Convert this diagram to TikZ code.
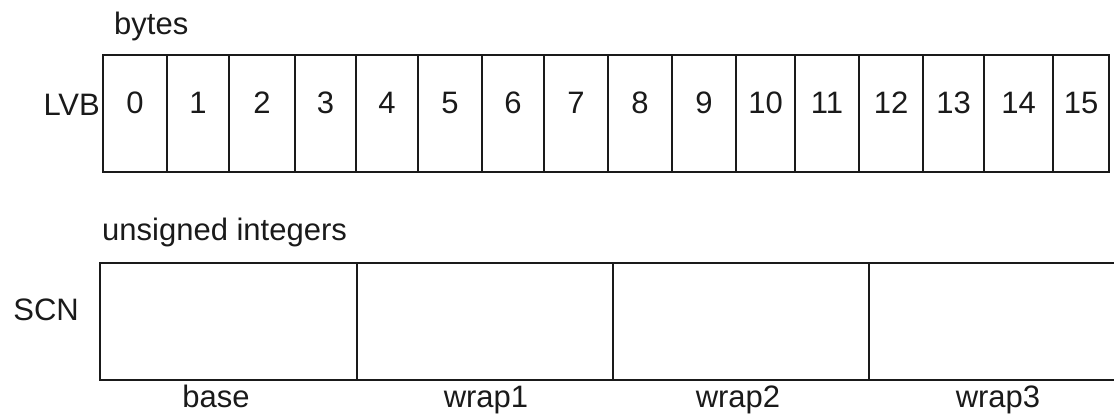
\documentclass[tikz,border=0pt]{standalone}
\usepackage{fontspec}
\setmainfont{Liberation Sans}
\usetikzlibrary{positioning}
\definecolor{Ink}{HTML}{1A1A1A}

\begin{document}
\begin{tikzpicture}[x=1pt,y=1pt,lbl/.style={font=\fontsize{31}{36}\selectfont,text=Ink,inner sep=0pt},box/.style={draw=Ink,line width=1.6pt}]
        \useasboundingbox(0,0)rectangle(1114,413);
        \clip(0,0)rectangle(1114,413);
        \foreach \l/\r [count=\i from 0] in {103/167,167/229,229/295,295/356,356/418,418/482,482/544,544/608,608/672,672/736,736/795,795/859,859/923,923/984,984/1053,1053/1109}{
          \draw[box](\l,241)rectangle(\r,358);
          \node[lbl,anchor=base](b\i)at({(\l+\r)/2},299){\i};}
        \foreach \l/\r/\c/\t [count=\i] in {100/357/216/base,357/613/486/wrap1,613/869/738/wrap2,869/1125/998/wrap3}{
          \draw[box](\l,33)rectangle(\r,150);
          \node[lbl,anchor=base](w\i)at(\c,6){\t};}
        \node[lbl,anchor=base west](bytes)at(114,378){bytes};
        \node[lbl,anchor=base east](lvb)at(100,297){LVB};
        \node[lbl,anchor=base west](uint)at(102,172){unsigned integers};
        \node[lbl,anchor=base east](scn)at(79,93){SCN};
      \end{tikzpicture}
\end{document}
